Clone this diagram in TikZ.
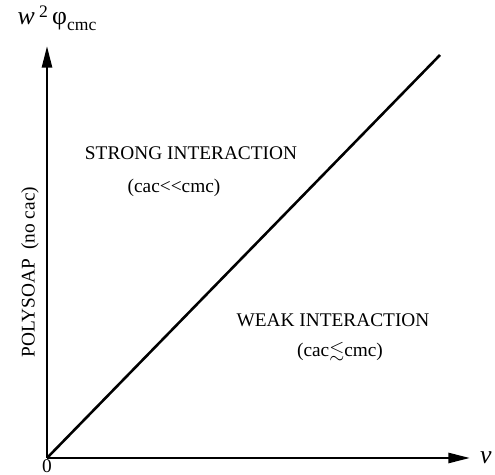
\documentclass[tikz,border=0pt]{standalone}
\usepackage{amssymb}
\usepackage{fontspec}
\setmainfont{Liberation Serif}
\usetikzlibrary{arrows.meta, positioning}

\begin{document}
\begin{tikzpicture}[
    x=0.03cm, y=0.03cm,
    axis/.style={line width=2.2pt, -{Triangle[length=0.65cm, width=0.3cm]}},
    diag/.style={line width=2.2pt},
    lbl/.style={font=\fontsize{16.5}{19}\selectfont, inner sep=0pt},
    axlbl/.style={font=\fontsize{22}{25}\selectfont, inner sep=0pt},
]
\useasboundingbox (0,0) rectangle (495,475);

%% ---- AXES ----
\coordinate (origin) at (47,17);
\coordinate (ytip)   at (47,429);
\coordinate (xtip)   at (470,17);
\coordinate (diagend) at (440,420);

\draw[axis] (origin) -- (ytip);
\draw[axis] (origin) -- (xtip);
\draw[diag] (origin) -- (diagend);

%% ---- AXIS LABELS ----
\node[lbl, anchor=south] (zero) at (47,2) {0};
\node[axlbl, right=0.3cm of xtip] (vlbl) {\textit{v}};
\node[axlbl, anchor=base] (ylbl) at (57,450) {\textit{w}\,\raisebox{0.6ex}{\fontsize{15}{17}\selectfont 2}\,φ\raisebox{-0.45ex}{\fontsize{15}{17}\selectfont cmc}};

%% ---- REGIONS ----
\node[lbl] (strong)  at (191,322) {STRONG INTERACTION};
\node[lbl] (strongc) at (174,287) {(cac{<}{<}cmc)};
\node[lbl] (weak)    at (333,155) {WEAK INTERACTION};
\node[lbl] (weakc)   at (340,123) {(cac$\lesssim$cmc)};
\node[lbl, rotate=90] (poly) at (30,203) {POLYSOAP\ \ (no cac)};

\end{tikzpicture}
\end{document}
